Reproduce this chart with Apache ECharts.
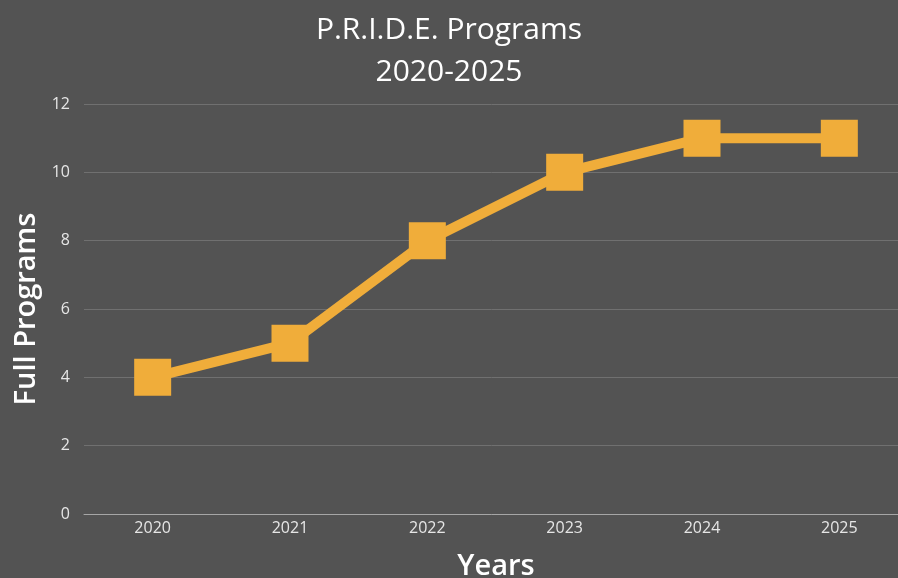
<!DOCTYPE html>
<html lang="en">
<head>
    <meta charset="utf-8">
    <title>P.R.I.D.E. Programs</title>
    <script src="https://cdn.jsdelivr.net/npm/echarts@6/dist/echarts.min.js"></script>
    <style>
        html, body { margin: 0; padding: 0; background: #535353; }
        #main { width: 898px; height: 578px; }
    </style>
</head>
<body>
<div id="main"></div>
<script type="text/javascript">
    var years = ['2020', '2021', '2022', '2023', '2024', '2025'];
    var programs = [4, 5, 8, 10, 11, 11];

    var myChart = echarts.init(document.getElementById('main'));

    myChart.setOption({
        backgroundColor: '#535353',
        animation: false,
        title: {
            text: 'P.R.I.D.E. Programs\n2020-2025',
            left: 'center',
            top: 4,
            textStyle: {
                color: '#ffffff',
                fontFamily: 'Open Sans',
                fontWeight: 'normal',
                fontSize: 30,
                lineHeight: 42
            }
        },
        grid: {
            left: 84,
            right: -10,
            top: 104,
            bottom: 64,
            containLabel: false,
            outerBoundsMode: 'none'
        },
        xAxis: {
            type: 'category',
            data: years,
            boundaryGap: true,
            name: 'Years',
            nameLocation: 'middle',
            nameGap: 38,
            nameTextStyle: {
                color: '#ffffff',
                fontFamily: 'Open Sans',
                fontWeight: 600,
                fontSize: 29
            },
            axisLine: { lineStyle: { color: '#a6a6a6', width: 1 } },
            axisTick: { show: false },
            axisLabel: {
                color: '#e6e6e6',
                fontFamily: 'Open Sans',
                fontSize: 16,
                margin: 6
            }
        },
        yAxis: {
            type: 'value',
            min: 0,
            max: 12,
            interval: 2,
            name: 'Full Programs',
            nameLocation: 'middle',
            nameGap: 42,
            nameTextStyle: {
                color: '#ffffff',
                fontFamily: 'Open Sans',
                fontWeight: 600,
                fontSize: 29
            },
            axisLine: { show: false },
            axisTick: { show: false },
            axisLabel: {
                color: '#e6e6e6',
                fontFamily: 'Open Sans',
                fontSize: 16,
                margin: 14
            },
            splitLine: { lineStyle: { color: '#707070', width: 1 } }
        },
        series: [{
            name: 'Full Programs',
            type: 'line',
            data: programs,
            symbol: 'rect',
            symbolSize: 37,
            lineStyle: { color: '#f0ad3a', width: 10 },
            itemStyle: { color: '#f0ad3a' }
        }]
    });
</script>
</body>
</html>
